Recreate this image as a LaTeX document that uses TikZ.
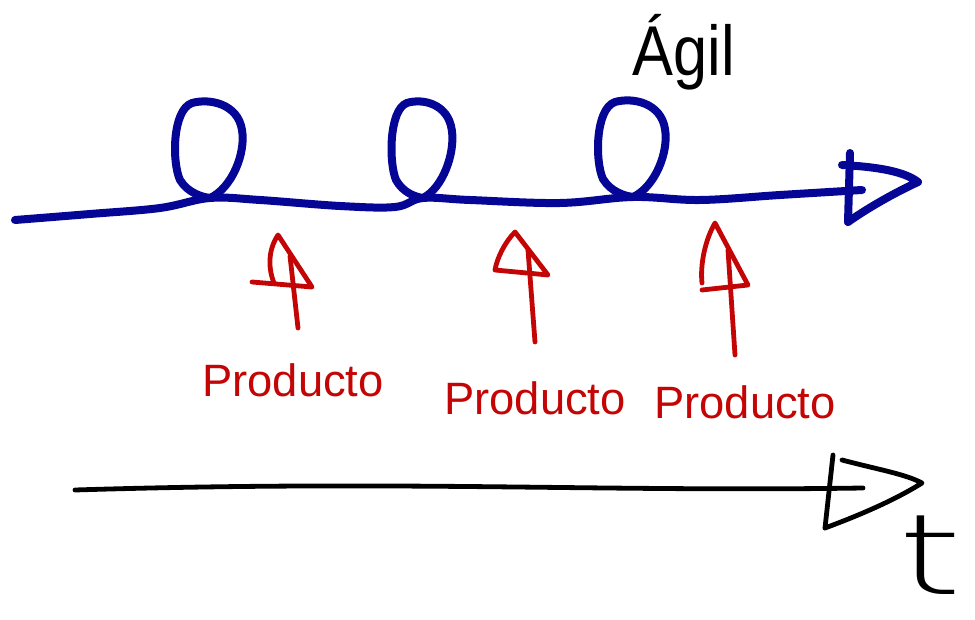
\documentclass[tikz,border=0pt]{standalone}
\usepackage{fontspec}
\setmainfont{Liberation Sans}
\newfontfamily\thinfont{DejaVu Sans ExtraLight}
\definecolor{penblue}{RGB}{5,5,150}
\definecolor{penred}{RGB}{195,5,5}
\begin{document}
\begin{tikzpicture}[x=0.75pt,y=-0.75pt,
  blueline/.style={draw=penblue,line width=6pt,line cap=round,line join=round},
  redline/.style={draw=penred,line width=3.6pt,line cap=round,line join=round},
  blackline/.style={draw=black,line width=3.6pt,line cap=round,line join=round},
  redlabel/.style={text=penred,font=\fontsize{34}{34}\selectfont,inner sep=0pt},
  loopy/.pic={\draw[blueline] (0,0) .. controls (22,-10) and (36,-45) .. (32,-68)
      .. controls (28,-94) and (0,-100) .. (-18,-95)
      .. controls (-38,-88) and (-38,-35) .. (-30,-18)
      .. controls (-22,-5) and (-8,-1) .. (0,0);}]
\useasboundingbox (0,0) rectangle (975,620);
% blue time line with iterations
\coordinate (b0) at (15,220);
\coordinate (x1) at (210,198);
\coordinate (x2) at (423,198);
\coordinate (x3) at (633,197);
\coordinate (bend) at (862,190);
\draw[blueline] plot[smooth,tension=0.6] coordinates {(b0) (90,214) (160,208) (x1) (260,200) (340,206) (395,207) (x2) (470,200) (560,203) (x3) (700,200) (780,195) (bend)};
\pic at (x1) {loopy};
\pic[xscale=0.9] at (x2) {loopy};
\pic at (x3) {loopy};
% blue arrowhead
\coordinate (bh1) at (850,153);
\coordinate (bh2) at (848,222);
\coordinate (bht) at (842,165);
\coordinate (btip) at (918,182);
\draw[blueline] (bh1) -- (bh2);
\draw[blueline] (bht) .. controls (880,167) and (905,172) .. (btip) .. controls (890,195) and (865,210) .. (bh2);
% title
\node[font=\fontsize{46}{46}\selectfont,yscale=1.15,inner sep=0pt] (agil) at (684,52) {Ágil};
% red arrows
\coordinate (r1s) at (298,328); \coordinate (r1a) at (278,235);
\coordinate (r1l) at (252,282); \coordinate (r1r) at (312,287);
\draw[redline] (r1s) -- (290,256);
\draw[redline] (r1l) -- (r1r) -- (r1a) .. controls (268,250) and (268,268) .. (274,283);
\coordinate (r2s) at (535,342); \coordinate (r2a) at (515,232);
\coordinate (r2l) at (495,270); \coordinate (r2r) at (548,275);
\draw[redline] (r2s) -- (528,250);
\draw[redline] (r2l) -- (r2r) -- (r2a) .. controls (505,242) and (497,258) .. (r2l);
\coordinate (r3s) at (735,355); \coordinate (r3a) at (715,223);
\coordinate (r3l) at (702,290); \coordinate (r3r) at (748,285);
\draw[redline] (r3s) -- (728,250);
\draw[redline] (r3l) -- (r3r) -- (r3a) .. controls (705,240) and (700,265) .. (702,283);
\node[redlabel] (p1) at (293,380) {Producto};
\node[redlabel] (p2) at (535,398) {Producto};
\node[redlabel] (p3) at (745,402) {Producto};
% black time axis
\coordinate (k0) at (75,490);
\coordinate (kend) at (863,488);
\coordinate (kv1) at (833,455);
\coordinate (kv2) at (825,528);
\coordinate (kt) at (842,460);
\coordinate (ktip) at (922,483);
\draw[blackline] (k0) .. controls (400,480) and (600,492) .. (kend);
\draw[blackline] (kv1) -- (kv2);
\draw[blackline] (kt) .. controls (880,470) and (905,474) .. (ktip) .. controls (895,500) and (860,515) .. (kv2);
\node[font=\thinfont\fontsize{84}{84}\selectfont,xscale=1.45,inner sep=0pt,anchor=base] (t) at (930,594) {t};
\end{tikzpicture}
\end{document}
